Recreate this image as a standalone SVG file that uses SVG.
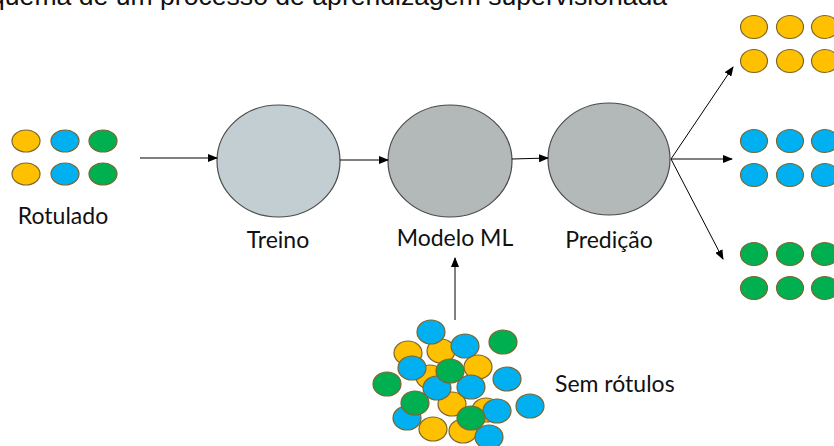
<svg xmlns="http://www.w3.org/2000/svg" width="834" height="446" viewBox="0 0 834 446">
<defs>
<marker id="ah" markerWidth="10" markerHeight="8" refX="9" refY="4" orient="auto" markerUnits="userSpaceOnUse">
<path d="M0,0 L10,4 L0,8 Z" fill="#000"/>
</marker>
<style>
.y{fill:#ffc000;stroke:#7a6630;stroke-width:1.2}
.b{fill:#00b0f0;stroke:#7a6630;stroke-width:1.2}
.g{fill:#00b050;stroke:#7a6630;stroke-width:1.2}
.node{stroke:#4a4a4a;stroke-width:1.2}
.lbl{font-family:Lato,"Open Sans",sans-serif;font-size:23px;fill:#111;text-anchor:middle}
.title{font-family:"Liberation Sans",Arial,sans-serif;font-size:26.6px;fill:#111}
.c{stroke:#000;stroke-width:1;fill:none;marker-end:url(#ah)}
</style>
</defs>
<rect width="834" height="446" fill="#fff"/>
<text class="title" x="-41" y="4.5">Esquema de um processo de aprendizagem supervisionada</text>

<g id="rotulado">
<ellipse class="y" cx="26" cy="141" rx="14" ry="11"/>
<ellipse class="b" cx="65" cy="141" rx="14" ry="11"/>
<ellipse class="g" cx="103" cy="141" rx="14" ry="11"/>
<ellipse class="y" cx="26" cy="174" rx="14" ry="11"/>
<ellipse class="b" cx="65" cy="174" rx="14" ry="11"/>
<ellipse class="g" cx="103" cy="174" rx="14" ry="11"/>
<text class="lbl" x="63" y="224">Rotulado</text>
</g>

<g id="treino">
<ellipse class="node" cx="278.5" cy="161" rx="61.5" ry="56" fill="#c3ced3"/>
<text class="lbl" x="278" y="248">Treino</text>
</g>

<g id="modelo">
<ellipse class="node" cx="450" cy="161" rx="62" ry="56" fill="#b3b9b9"/>
<text class="lbl" x="455" y="246">Modelo ML</text>
</g>

<g id="predicao">
<ellipse class="node" cx="609" cy="159" rx="61" ry="56" fill="#b3b9b9"/>
<text class="lbl" x="609" y="248">Predição</text>
</g>

<g id="saida-amarelo">
<ellipse class="y" cx="754" cy="27" rx="13.5" ry="11.5"/>
<ellipse class="y" cx="790" cy="27" rx="13.5" ry="11.5"/>
<ellipse class="y" cx="825" cy="27" rx="13.5" ry="11.5"/>
<ellipse class="y" cx="754" cy="61" rx="13.5" ry="11.5"/>
<ellipse class="y" cx="790" cy="61" rx="13.5" ry="11.5"/>
<ellipse class="y" cx="825" cy="61" rx="13.5" ry="11.5"/>
</g>
<g id="saida-azul">
<ellipse class="b" cx="754" cy="141" rx="13.5" ry="11.5"/>
<ellipse class="b" cx="790" cy="141" rx="13.5" ry="11.5"/>
<ellipse class="b" cx="825" cy="141" rx="13.5" ry="11.5"/>
<ellipse class="b" cx="754" cy="175" rx="13.5" ry="11.5"/>
<ellipse class="b" cx="790" cy="175" rx="13.5" ry="11.5"/>
<ellipse class="b" cx="825" cy="175" rx="13.5" ry="11.5"/>
</g>
<g id="saida-verde">
<ellipse class="g" cx="754" cy="254" rx="13.5" ry="11.5"/>
<ellipse class="g" cx="790" cy="254" rx="13.5" ry="11.5"/>
<ellipse class="g" cx="825" cy="254" rx="13.5" ry="11.5"/>
<ellipse class="g" cx="754" cy="288" rx="13.5" ry="11.5"/>
<ellipse class="g" cx="790" cy="288" rx="13.5" ry="11.5"/>
<ellipse class="g" cx="825" cy="288" rx="13.5" ry="11.5"/>
</g>

<g id="sem-rotulos">
<ellipse class="y" cx="408" cy="353" rx="14" ry="12"/>
<ellipse class="y" cx="441" cy="351" rx="14" ry="12"/>
<ellipse class="y" cx="430" cy="377" rx="14" ry="12"/>
<ellipse class="y" cx="478" cy="367" rx="14" ry="12"/>
<ellipse class="y" cx="452" cy="404" rx="14" ry="12"/>
<ellipse class="y" cx="486" cy="410" rx="14" ry="12"/>
<ellipse class="b" cx="431" cy="332" rx="14" ry="12"/>
<ellipse class="b" cx="465" cy="346" rx="14" ry="12"/>
<ellipse class="b" cx="412" cy="368" rx="14" ry="12"/>
<ellipse class="b" cx="437" cy="388" rx="14" ry="12"/>
<ellipse class="b" cx="471" cy="387" rx="14" ry="12"/>
<ellipse class="b" cx="507" cy="379" rx="14" ry="12"/>
<ellipse class="b" cx="407" cy="418" rx="14" ry="12"/>
<ellipse class="b" cx="497" cy="411" rx="14" ry="12"/>
<ellipse class="b" cx="530" cy="406" rx="14" ry="12"/>
<ellipse class="y" cx="433" cy="429" rx="14" ry="12"/>
<ellipse class="y" cx="463" cy="431" rx="14" ry="12"/>
<ellipse class="b" cx="489" cy="437" rx="14" ry="12"/>
<ellipse class="g" cx="503" cy="342" rx="14" ry="12"/>
<ellipse class="g" cx="450" cy="371" rx="14" ry="12"/>
<ellipse class="g" cx="387" cy="384" rx="14" ry="12"/>
<ellipse class="g" cx="415" cy="403" rx="14" ry="12"/>
<ellipse class="g" cx="471" cy="418" rx="14" ry="12"/>
<text class="lbl" x="555" y="392" style="text-anchor:start">Sem rótulos</text>
</g>

<g id="connectors">
<line class="c" x1="140" y1="158" x2="217" y2="158"/>
<line class="c" x1="340" y1="160" x2="388" y2="160"/>
<line class="c" x1="512" y1="159" x2="548" y2="158"/>
<line class="c" x1="455" y1="320" x2="455" y2="258"/>
<line class="c" x1="671" y1="159" x2="733" y2="67"/>
<line class="c" x1="671" y1="159" x2="732" y2="159"/>
<line class="c" x1="671" y1="159" x2="723" y2="259"/>
</g>
</svg>
